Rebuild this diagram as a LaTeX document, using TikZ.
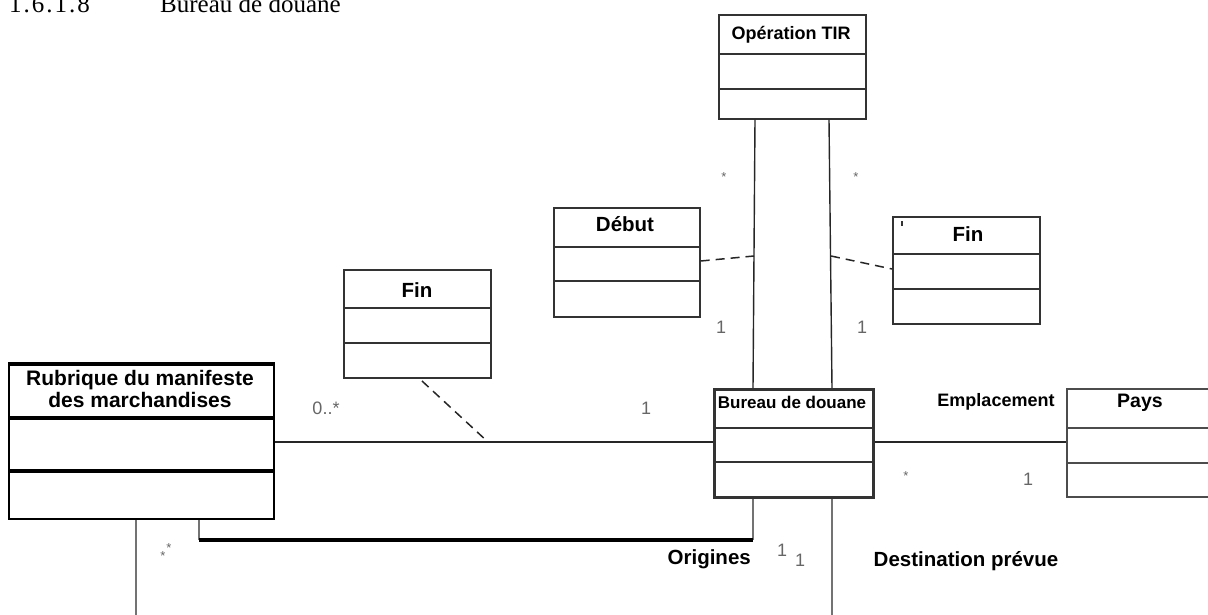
\documentclass[tikz,border=0pt]{standalone}
\usepackage{fontspec}
\setmainfont{Liberation Serif}
\setsansfont{Liberation Sans}
\newcommand\fs[1]{\fontsize{#1}{#1}\selectfont}
% \umlclass{name}{x1}{y1}{x2}{y2}{divider 1}{divider 2}{frame style}{divider style}
\newcommand\umlclass[9]{%
  \node[classframe, minimum width={#4-#2}, minimum height={#5-#3}, #8] (#1) at (#2,#3) {};
  \draw[divider, #9] (#1.west |- 0,#6) -- (#1.east |- 0,#6);
  \draw[divider, #9] (#1.west |- 0,#7) -- (#1.east |- 0,#7);
}
\begin{document}
\begin{tikzpicture}[x=1pt,y=-1pt,
  classframe/.style={draw=black!80, line width=1.7pt, anchor=north west, inner sep=0pt},
  divider/.style={draw=black!80, line width=1.7pt},
  classtitle/.style={font=\sffamily\bfseries\fs{#1}, inner sep=0pt},
  mult/.style={font=\sffamily\fs{18}, text=black!60, inner sep=0pt},
  star/.style={font=\sffamily\fs{13}, text=black!60, inner sep=0pt},
  rolename/.style={font=\sffamily\bfseries\fs{#1}, inner sep=0pt},
  heading/.style={font=\fs{25}, anchor=base west, inner sep=0pt},
  assoc/.style={draw=black!85, line width=1.4pt},
  greyassoc/.style={draw=black!55, line width=1.8pt},
  assoclink/.style={draw=black!85, line width=1.5pt, dash pattern=on 9pt off 6pt},
]
\useasboundingbox (0,0) rectangle (1208,615);
\clip (0,0) rectangle (1208,615);

% section heading, running off the top edge of the page
\node[heading] (secnum) at (9,13) {\addfontfeature{LetterSpace=8}1.6.1.8};
\node[heading] (sectitle) at (160,13) {Bureau de douane};

% classes
\umlclass{op}{718}{14}{865}{118}{54}{89}{}{}
\node[classtitle=18] (op-t) at (791,35) {Opération TIR};

\umlclass{deb}{553}{207}{699}{316}{247}{281}{}{}
\node[classtitle=20.5] (deb-t) at (625,224) {Début};

\umlclass{finr}{892}{216}{1039}{323}{254}{289}{}{}
\node[classtitle=20.5] (finr-t) at (968,234) {Fin};
\fill[black!80] (901,221) rectangle (903,226);

\umlclass{finl}{343}{269}{490}{377}{308}{343}{}{}
\node[classtitle=20.5] (finl-t) at (417,290) {Fin};

\umlclass{rub}{8}{362}{273}{518}{418}{471}{draw=black, line width=2.2pt}{draw=black, line width=3.4pt}
\draw[black, line width=2pt] (rub.north west) ++(0,3) -- ([yshift=-3pt]rub.north east);
\node[classtitle=21, align=center] (rub-t) at (140,389)
  {Rubrique du manifeste\\[1pt]des marchandises};

\umlclass{bur}{713}{388}{872}{496}{428}{462}{line width=2.8pt}{line width=2.8pt}
\node[classtitle=17] (bur-t) at (792,402) {Bureau de douane};

\umlclass{pays}{1066}{388}{1214}{496}{428}{463}{draw=black!70}{draw=black!70}
\node[classtitle=19.5] (pays-t) at (1140,403) {Pays};

% Opération TIR -- Bureau de douane (début / fin)
\draw[assoc] (op.south -| 755,0) -- (bur.north -| 753,0);
\draw[assoc] (op.south -| 829,0) -- (bur.north -| 832,0);
\coordinate (debjoin) at (754,256);
\coordinate (finjoin) at (831,256);
\draw[assoclink] (deb.east |- 0,261) -- (debjoin);
\draw[assoclink] (finjoin) -- (finr.west |- 0,269);
\node[star] (m1) at (724,177) {*};
\node[star] (m2) at (856,177) {*};
\node[mult] (m3) at (721,327) {1};
\node[mult] (m4) at (862,327) {1};

% Rubrique -- Bureau de douane
\draw[assoc] (rub.east |- 0,442) -- (bur.west |- 0,442);
\coordinate (finljoin) at (488,442);
\draw[assoclink] (422,381) -- (finljoin);
\node[mult] (m5) at (326,408) {0..*};
\node[mult] (m6) at (646,408) {1};

% Bureau de douane -- Pays
\draw[assoc] (bur.east |- 0,442) -- (pays.west |- 0,442);
\node[rolename=18] (emp) at (996,402) {Emplacement};
\node[star] (m7) at (906,476) {*};
\node[mult] (m8) at (1028,479) {1};

% origines
\draw[greyassoc] (rub.south -| 199,0) -- (199,540);
\draw[greyassoc] (bur.south -| 753,0) -- (753,540);
\draw[black, line width=4pt] (199,540) -- (753,540);
\node[rolename=20.5, anchor=east] (orig) at (751,559) {Origines};
\node[star] (m9) at (169,548) {*};
\node[star] (m10) at (163,556) {*};
\node[mult] (m11) at (782,550) {1};
\node[mult] (m12) at (800,560) {1};

% destination prévue
\draw[greyassoc] (rub.south -| 136,0) -- (136,615);
\draw[greyassoc] (bur.south -| 832,0) -- (832,615);
\node[rolename=20.5] (dest) at (966,561) {Destination prévue};
\end{tikzpicture}
\end{document}
